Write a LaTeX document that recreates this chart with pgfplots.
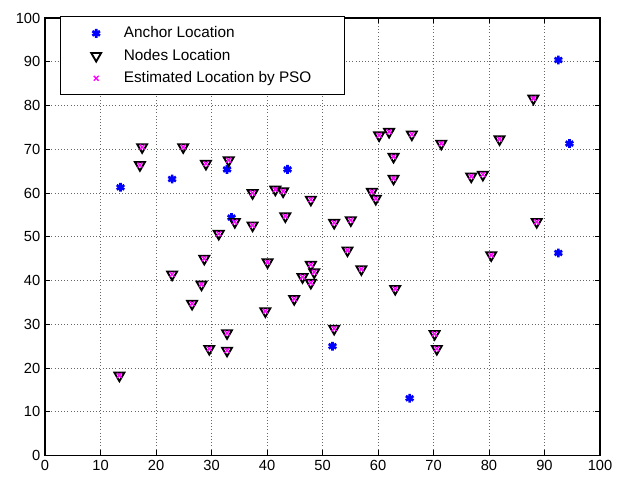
\documentclass[border=0pt]{standalone}
\usepackage{fontspec}
\setmainfont{Liberation Sans}
\usepackage{pgfplots}
\pgfplotsset{compat=1.18}
\definecolor{anchorblue}{RGB}{0,0,255}
\definecolor{psomag}{RGB}{255,0,255}

% node positions (same points are used for the PSO estimates)
\pgfplotstableread{
x y
17.5 70.5
24.9 70.5
17.1 66.4
29.0 66.7
33.1 67.5
31.3 50.7
28.7 45.0
22.9 41.4
28.2 39.1
34.2 53.4
37.4 60.0
41.5 60.8
42.9 60.4
47.9 58.5
37.4 52.6
43.3 54.7
52.1 53.2
55.1 53.8
54.5 46.9
57.0 42.6
40.1 44.2
47.9 43.6
48.5 41.9
46.4 40.8
47.9 39.5
44.9 35.8
60.2 73.2
62.0 74.0
62.8 68.3
62.8 63.3
58.9 60.3
59.6 58.7
63.1 38.1
88.0 81.6
66.1 73.4
71.4 71.3
81.9 72.3
76.8 63.8
78.9 64.2
88.6 53.4
80.4 45.8
13.4 18.3
26.5 34.7
39.7 33.0
32.8 28.0
29.6 24.4
32.8 24.0
52.1 29.0
70.2 27.8
70.6 24.4
}\nodes

\begin{document}
\begin{tikzpicture}
\begin{axis}[
  name=ax,
  scale only axis, width=416pt, height=328pt,
  xmin=0, xmax=100, ymin=0, ymax=100,
  xtick={0,10,...,100}, ytick={0,10,...,100},
  tick align=inside, major tick length=4pt,
  grid=major,
  grid style={dotted, line width=0.7pt, black!60},
  axis line style={line width=0.8pt},
  tick style={black, line width=0.6pt},
  /pgf/number format/assume math mode=true,
  tick label style={font=\fontsize{11}{13}\selectfont},
  legend style={at={(0.027,1.004)}, anchor=north west,
    font=\fontsize{11.5}{14}\selectfont, draw=black, line width=0.8pt,
    inner xsep=23pt, inner ysep=5.5pt, row sep=3pt,
    /tikz/every odd column/.append style={column sep=15pt}},
  legend cell align=left,
]
  \addplot[only marks, mark=asterisk, mark size=3.3pt, line width=2pt, color=anchorblue]
    coordinates {
      (13.6,61.3) (22.9,63.2) (32.8,65.4) (33.6,54.4) (43.7,65.4)
      (92.5,90.4) (94.5,71.3) (92.5,46.3) (51.8,25.0) (65.7,13.1)
    };
  \addlegendentry{Anchor Location}

  \addplot[only marks, mark=triangle, mark size=4.3pt, line width=1.4pt, color=black,
    mark options={rotate=180}]
    table[x=x, y=y] {\nodes};
  \addlegendentry{Nodes Location}

  \addplot[only marks, mark=x, mark size=2.6pt, line width=1pt, color=psomag]
    table[x=x, y=y] {\nodes};
  \addlegendentry{Estimated Location by PSO}
\end{axis}
\path ([xshift=-33.75pt,yshift=-18.75pt]ax.south west) rectangle ([xshift=18pt,yshift=13.5pt]ax.north east);
\end{tikzpicture}
\end{document}
